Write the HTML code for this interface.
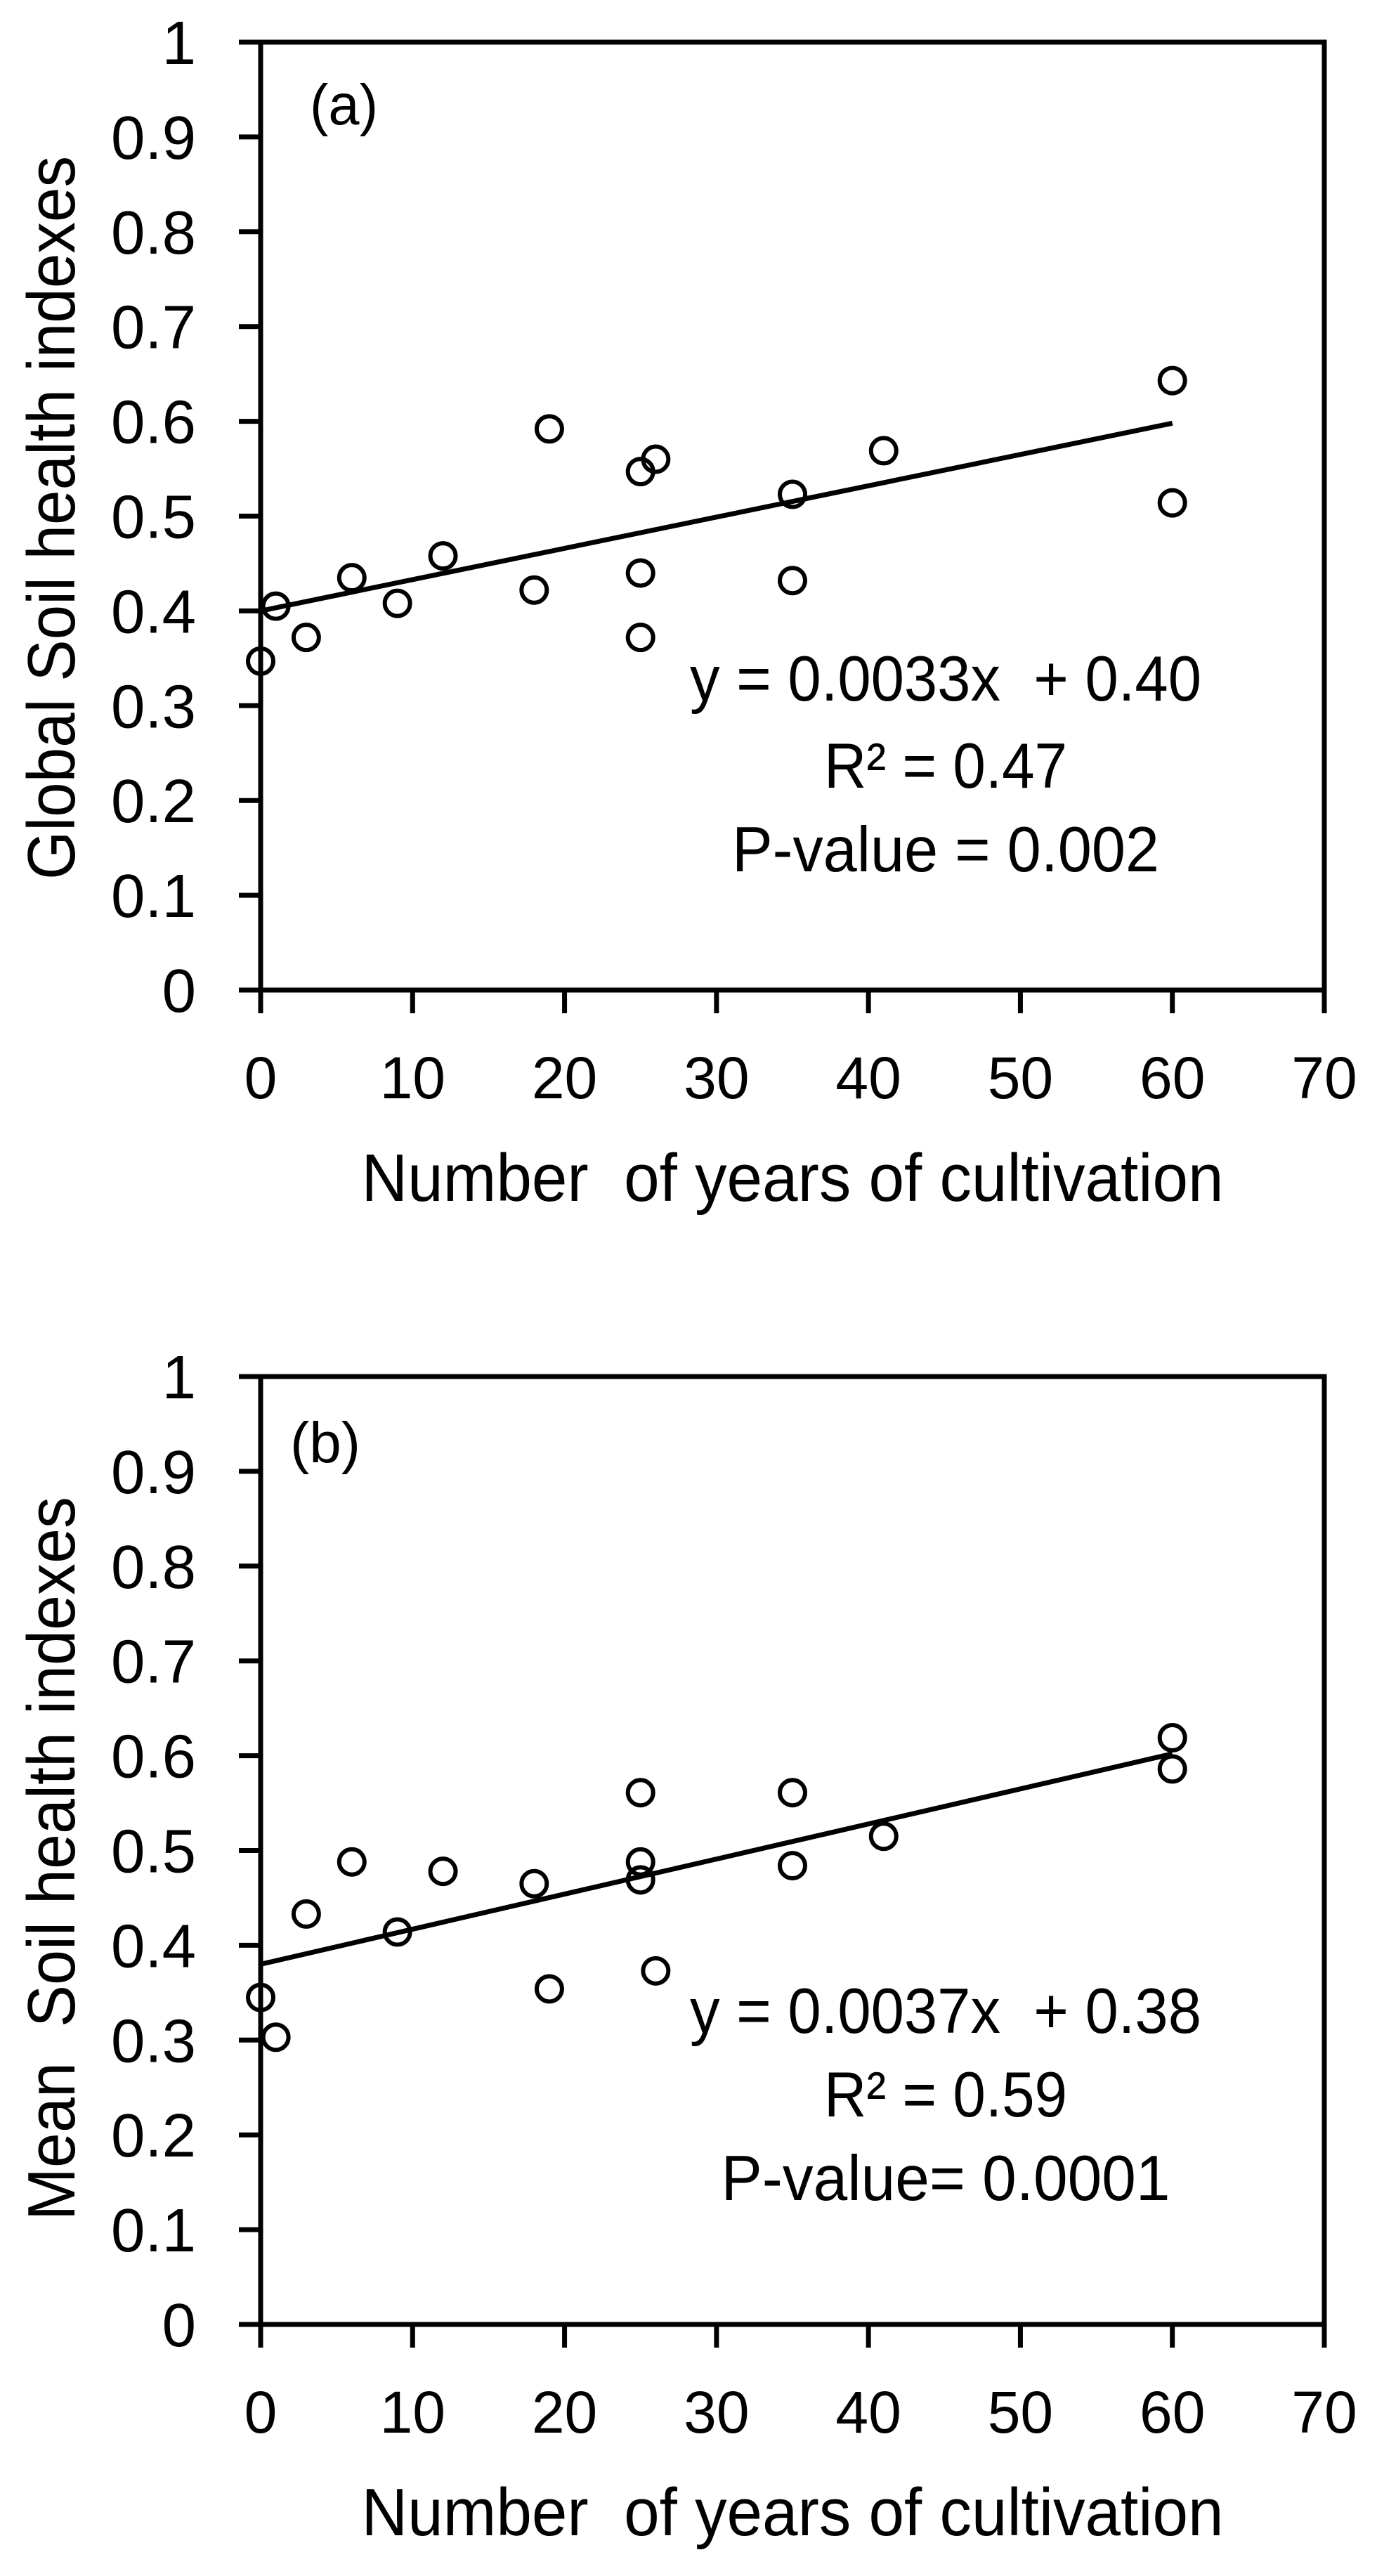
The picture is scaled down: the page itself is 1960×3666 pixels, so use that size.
<!DOCTYPE html>
<html><head><meta charset="utf-8">
<style>
html,body{margin:0;padding:0;background:#fff;}
svg{display:block;font-family:"Liberation Sans",sans-serif;}
</style></head>
<body>
<svg id="fig" width="1960" height="3666" viewBox="0 0 1960 3666" xmlns="http://www.w3.org/2000/svg"></svg>
<script>
// ---- data ----
const xTicks = [0,10,20,30,40,50,60,70];
const yTicks = [0,0.1,0.2,0.3,0.4,0.5,0.6,0.7,0.8,0.9,1];
const yTickLabels = ["0","0.1","0.2","0.3","0.4","0.5","0.6","0.7","0.8","0.9","1"];
const aYears = [0,1,3,6,9,12,18,19,25,25,25,26,35,35,41,60,60];
const aValues = [0.347,0.405,0.372,0.435,0.408,0.458,0.422,0.592,0.547,0.440,0.372,0.560,0.523,0.432,0.569,0.643,0.514];
const aTrend = [0.0033,0.40];
const bYears = [0,1,3,6,9,12,18,19,25,25,25,26,35,35,41,60,60];
const bValues = [0.345,0.303,0.433,0.488,0.414,0.478,0.465,0.354,0.561,0.488,0.469,0.373,0.561,0.484,0.515,0.619,0.586];
const bTrend = [0.0037,0.38];

const NS="http://www.w3.org/2000/svg";
const svg=document.getElementById('fig');
function mk(tag,attrs,parent){const e=document.createElementNS(NS,tag);for(const k in attrs)e.setAttribute(k,attrs[k]);(parent||svg).appendChild(e);return e;}
function tlen(s,fs){return null;}

function chart(cfg){
  const L=371,R=1885,T=cfg.top,B=cfg.top+1349;
  const sx=v=>L+(v-0)/70*(R-L);
  const sy=v=>B-v*(B-T);
  const g=mk('g',{});
  
  
  const frame=mk('rect',{x:L,y:T,width:R-L,height:B-T,fill:'none',stroke:'#000','stroke-width':7},g);
  
  
  yTicks.forEach((v,i)=>{
    const y=sy(v);
    const t=mk('line',{x1:340,x2:L,y1:y,y2:y,stroke:'#000','stroke-width':7},g);
    
    
    const lab=yTickLabels[i];
    const tx=mk('text',{x:279,y:y+31,'font-size':87,'text-anchor':'end'},g);
    tx.textContent=lab;
    
    
  });
  xTicks.forEach(v=>{
    const x=sx(v);
    const t=mk('line',{x1:x,x2:x,y1:B,y2:B+33,stroke:'#000','stroke-width':7},g);
    
    
    const tx=mk('text',{x:x,y:B+154,'font-size':84,'text-anchor':'middle'},g);
    tx.textContent=String(v);
    
    
  });
  const tl=mk('line',{x1:sx(0),y1:sy(cfg.trend[1]),x2:sx(60),y2:sy(cfg.trend[1]+cfg.trend[0]*60),stroke:'#000','stroke-width':7},g);
  
  
  cfg.xs.forEach((xv,i)=>{
    const c=mk('circle',{cx:sx(xv),cy:sy(cfg.ys[i]),r:18,fill:'none',stroke:'#000','stroke-width':6},g);
    
    
  });
  const xt=mk('text',{x:1128,y:B+300,'font-size':96,'text-anchor':'middle',textLength:1227,lengthAdjust:'spacingAndGlyphs'},g);
  xt.textContent='Number\u00A0\u00A0of years of cultivation';
  
  
  const yt=mk('text',{x:0,y:0,'font-size':96,'text-anchor':'middle',transform:`translate(106,${cfg.ytCenter}) rotate(-90)`,textLength:1030,lengthAdjust:'spacingAndGlyphs'},g);
  yt.textContent=cfg.ytitle;
  
  
  const pl=mk('text',{x:cfg.panelX,y:T+cfg.panelDy,'font-size':82,textLength:cfg.panelW,lengthAdjust:'spacingAndGlyphs'},g);
  pl.textContent=cfg.panel;
  
  
  cfg.ann.forEach(a=>{
    const t=mk('text',{x:1346,y:a[1],'font-size':91,'text-anchor':'middle',textLength:a[2],lengthAdjust:'spacingAndGlyphs'},g);
    t.textContent=a[0];
    
    
  });
}
chart({name:'chart-a',top:60,xs:aYears,ys:aValues,trend:aTrend,ytitle:'Global Soil health indexes',ytCenter:737,panel:'(a)',panelX:441,panelDy:117,panelW:97,
  ann:[['y = 0.0033x\u00A0\u00A0+ 0.40',997,728],['R² = 0.47',1121,346],['P-value = 0.002',1240,608]]});
chart({name:'chart-b',top:1959,xs:bYears,ys:bValues,trend:bTrend,ytitle:'Mean\u00A0\u00A0Soil health indexes',ytCenter:2645,panel:'(b)',panelX:413,panelDy:122,panelW:100,
  ann:[['y = 0.0037x\u00A0\u00A0+ 0.38',2893,728],['R² = 0.59',3012,346],['P-value= 0.0001',3131,639]]});
</script>
</body></html>
